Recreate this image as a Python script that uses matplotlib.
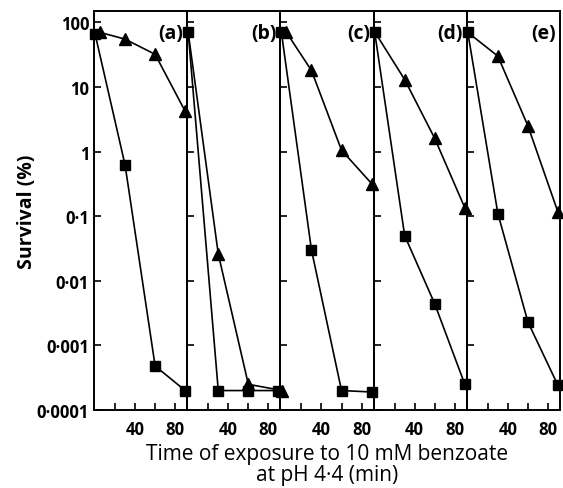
import matplotlib
matplotlib.use("Agg")
import matplotlib.pyplot as plt
from matplotlib.ticker import FixedLocator, NullLocator

plt.rcParams['font.family'] = ['Open Sans', 'DejaVu Sans']

# survival (%), time in minutes
panels = ["(a)", "(b)", "(c)", "(d)", "(e)"]
t_sq = [0, 30, 60, 90]
sq_vals = [
    [67, 0.62, 0.00048, 0.0002],
    [70, 0.0002, 0.0002, 0.0002],
    [70, 0.03, 0.0002, 0.00019],
    [72, 0.05, 0.0044, 0.00025],
    [70, 0.11, 0.0023, 0.00024],
]
t_tri = [
    [5, 30, 60, 90],
    [0, 30, 60, 94],
    [5, 30, 60, 90],
    [0, 30, 60, 90],
    [0, 30, 60, 90],
]
tri_vals = [
    [70, 55, 32, 4.2],
    [70, 0.026, 0.00025, 0.0002],
    [70, 18, 1.05, 0.32],
    [72, 13, 1.6, 0.135],
    [70, 30, 2.5, 0.115],
]
# first triangle hidden under the square in these panels
tri_first_hidden = [False, True, False, True, True]
ytick_vals = [0.0001, 0.001, 0.01, 0.1, 1, 10, 100]
ytick_lbls = ["0·0001", "0·001", "0·01", "0·1", "1", "10", "100"]

fig = plt.figure(figsize=(5.63, 4.89), dpi=100)
left, right, bottom, top = 94 / 563, 560 / 563, 1 - 411 / 489, 1 - 12 / 489
w = (right - left) / 5

for i in range(5):
    ax = fig.add_axes([left + i * w, bottom, w, top - bottom])
    ax.set_facecolor("none")
    ax.set_yscale("log")
    every = slice(1, None) if tri_first_hidden[i] else None
    ax.plot(t_tri[i], tri_vals[i], "-^", color="black", lw=1.2, ms=9,
            markevery=every, clip_on=False, zorder=3)
    ax.plot(t_sq, sq_vals[i], "-s", color="black", lw=1.2, ms=7,
            clip_on=False, zorder=4)
    ax.set_xlim(-1, 92)
    ax.set_ylim(0.0001, 150)
    ax.xaxis.set_major_locator(FixedLocator([20, 40, 60, 80]))
    ax.set_xticklabels(["", "40", "", "80"])
    ax.yaxis.set_major_locator(FixedLocator(ytick_vals))
    ax.yaxis.set_minor_locator(NullLocator())
    if i == 0:
        ax.set_yticklabels(ytick_lbls)
        ax.set_ylabel("Survival (%)", fontsize=14, fontweight="bold",
                      labelpad=0)
    else:
        ax.set_yticklabels([])
    ax.tick_params(direction="in", length=5, width=1.2, labelsize=12)
    ax.tick_params(axis="x", pad=7)
    for lbl in ax.get_xticklabels() + ax.get_yticklabels():
        lbl.set_fontweight("bold")
    for s in ax.spines.values():
        s.set_linewidth(1.4)
    ax.text(0.96, 0.97, panels[i], transform=ax.transAxes, ha="right",
            va="top", fontsize=14, fontweight="bold")

fig.text((left + right) / 2, 0.006,
         "Time of exposure to 10 mM benzoate\nat pH 4·4 (min)",
         ha="center", va="bottom", fontsize=15, linespacing=1.0)

fig.savefig("out.png", dpi=100)
